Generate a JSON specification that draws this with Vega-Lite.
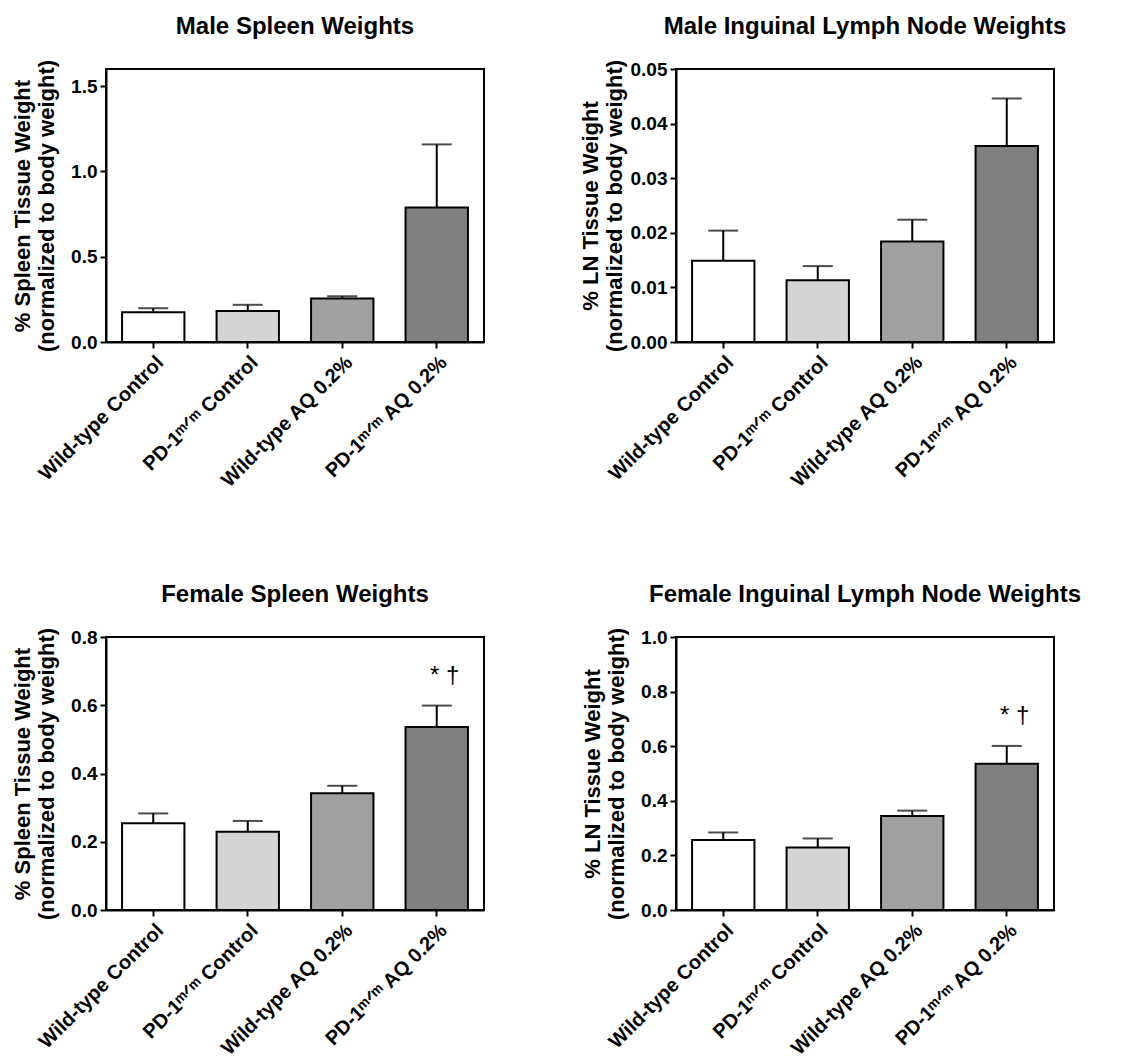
{
  "$schema": "https://vega.github.io/schema/vega-lite/v6.json",
  "autosize": {"type": "pad"},
  "padding": {"left": 10, "top": 14, "right": 5, "bottom": 5},
  "background": "white",
  "datasets": {
    "bars": [
      {"panel": "MS", "group": "Wild-type Control", "mean": 0.175, "upper": 0.198},
      {"panel": "MS", "group": "PD-1ᵐᐟᵐ Control", "mean": 0.181, "upper": 0.218},
      {"panel": "MS", "group": "Wild-type AQ 0.2%", "mean": 0.255, "upper": 0.268},
      {"panel": "MS", "group": "PD-1ᵐᐟᵐ AQ 0.2%", "mean": 0.789, "upper": 1.158},
      {"panel": "ML", "group": "Wild-type Control", "mean": 0.0149, "upper": 0.0204},
      {"panel": "ML", "group": "PD-1ᵐᐟᵐ Control", "mean": 0.0113, "upper": 0.0139},
      {"panel": "ML", "group": "Wild-type AQ 0.2%", "mean": 0.0184, "upper": 0.0224},
      {"panel": "ML", "group": "PD-1ᵐᐟᵐ AQ 0.2%", "mean": 0.0359, "upper": 0.0446},
      {"panel": "FS", "group": "Wild-type Control", "mean": 0.254, "upper": 0.283},
      {"panel": "FS", "group": "PD-1ᵐᐟᵐ Control", "mean": 0.229, "upper": 0.261},
      {"panel": "FS", "group": "Wild-type AQ 0.2%", "mean": 0.342, "upper": 0.364},
      {"panel": "FS", "group": "PD-1ᵐᐟᵐ AQ 0.2%", "mean": 0.536, "upper": 0.599, "note": "* †"},
      {"panel": "FL", "group": "Wild-type Control", "mean": 0.256, "upper": 0.284},
      {"panel": "FL", "group": "PD-1ᵐᐟᵐ Control", "mean": 0.229, "upper": 0.262},
      {"panel": "FL", "group": "Wild-type AQ 0.2%", "mean": 0.344, "upper": 0.364},
      {"panel": "FL", "group": "PD-1ᵐᐟᵐ AQ 0.2%", "mean": 0.536, "upper": 0.601, "note": "* †"}
    ]
  },
  "columns": 2,
  "spacing": {"row": 295, "column": 192},
  "bounds": "flush",
  "concat": [
    {
      "width": 378, "height": 273,
      "title": "Male Spleen Weights",
      "data": {"name": "bars"},
      "transform": [{"filter": "datum.panel === 'MS'"}],
      "encoding": {
        "x": {"field": "group", "type": "nominal", "title": null,
              "sort": ["Wild-type Control", "PD-1ᵐᐟᵐ Control", "Wild-type AQ 0.2%", "PD-1ᵐᐟᵐ AQ 0.2%"],
              "scale": {"paddingInner": 0.34, "paddingOuter": 0.17}}
      },
      "layer": [
        {"mark": {"type": "bar", "stroke": "black", "strokeWidth": 2},
         "encoding": {
           "y": {"field": "mean", "type": "quantitative", "title": ["% Spleen Tissue Weight", "(normalized to body weight)"],
                 "scale": {"domain": [0, 1.5]}, "axis": {"values": [0, 0.5, 1, 1.5], "format": ".1f"}},
           "fill": {"field": "group", "type": "nominal", "legend": null,
                    "scale": {"domain": ["Wild-type Control", "PD-1ᵐᐟᵐ Control", "Wild-type AQ 0.2%", "PD-1ᵐᐟᵐ AQ 0.2%"], "range": ["#ffffff", "#d4d4d4", "#a0a0a0", "#808080"]}}
         }},
        {"mark": {"type": "rule", "strokeWidth": 2, "color": "black"},
         "encoding": {"y": {"field": "mean", "type": "quantitative", "title": ["% Spleen Tissue Weight", "(normalized to body weight)"]}, "y2": {"field": "upper"}}},
        {"mark": {"type": "tick", "thickness": 2, "size": 30, "color": "black", "orient": "horizontal"},
         "encoding": {"y": {"field": "upper", "type": "quantitative", "title": ["% Spleen Tissue Weight", "(normalized to body weight)"]}}}
      ]
    },
    {
      "width": 378, "height": 273,
      "title": "Male Inguinal Lymph Node Weights",
      "data": {"name": "bars"},
      "transform": [{"filter": "datum.panel === 'ML'"}],
      "encoding": {
        "x": {"field": "group", "type": "nominal", "title": null,
              "sort": ["Wild-type Control", "PD-1ᵐᐟᵐ Control", "Wild-type AQ 0.2%", "PD-1ᵐᐟᵐ AQ 0.2%"],
              "scale": {"paddingInner": 0.34, "paddingOuter": 0.17}}
      },
      "layer": [
        {"mark": {"type": "bar", "stroke": "black", "strokeWidth": 2},
         "encoding": {
           "y": {"field": "mean", "type": "quantitative", "title": ["% LN Tissue Weight", "(normalized to body weight)"],
                 "scale": {"domain": [0, 0.05]}, "axis": {"values": [0, 0.01, 0.02, 0.03, 0.04, 0.05], "format": ".2f", "titlePadding": 4}},
           "fill": {"field": "group", "type": "nominal", "legend": null,
                    "scale": {"domain": ["Wild-type Control", "PD-1ᵐᐟᵐ Control", "Wild-type AQ 0.2%", "PD-1ᵐᐟᵐ AQ 0.2%"], "range": ["#ffffff", "#d4d4d4", "#a0a0a0", "#808080"]}}
         }},
        {"mark": {"type": "rule", "strokeWidth": 2, "color": "black"},
         "encoding": {"y": {"field": "mean", "type": "quantitative", "title": ["% LN Tissue Weight", "(normalized to body weight)"]}, "y2": {"field": "upper"}}},
        {"mark": {"type": "tick", "thickness": 2, "size": 30, "color": "black", "orient": "horizontal"},
         "encoding": {"y": {"field": "upper", "type": "quantitative", "title": ["% LN Tissue Weight", "(normalized to body weight)"]}}}
      ]
    },
    {
      "width": 378, "height": 273,
      "title": "Female Spleen Weights",
      "data": {"name": "bars"},
      "transform": [{"filter": "datum.panel === 'FS'"}],
      "encoding": {
        "x": {"field": "group", "type": "nominal", "title": null,
              "sort": ["Wild-type Control", "PD-1ᵐᐟᵐ Control", "Wild-type AQ 0.2%", "PD-1ᵐᐟᵐ AQ 0.2%"],
              "scale": {"paddingInner": 0.34, "paddingOuter": 0.17}}
      },
      "layer": [
        {"mark": {"type": "bar", "stroke": "black", "strokeWidth": 2},
         "encoding": {
           "y": {"field": "mean", "type": "quantitative", "title": ["% Spleen Tissue Weight", "(normalized to body weight)"],
                 "scale": {"domain": [0, 0.8]}, "axis": {"values": [0, 0.2, 0.4, 0.6, 0.8], "format": ".1f"}},
           "fill": {"field": "group", "type": "nominal", "legend": null,
                    "scale": {"domain": ["Wild-type Control", "PD-1ᵐᐟᵐ Control", "Wild-type AQ 0.2%", "PD-1ᵐᐟᵐ AQ 0.2%"], "range": ["#ffffff", "#d4d4d4", "#a0a0a0", "#808080"]}}
         }},
        {"mark": {"type": "rule", "strokeWidth": 2, "color": "black"},
         "encoding": {"y": {"field": "mean", "type": "quantitative", "title": ["% Spleen Tissue Weight", "(normalized to body weight)"]}, "y2": {"field": "upper"}}},
        {"mark": {"type": "tick", "thickness": 2, "size": 30, "color": "black", "orient": "horizontal"},
         "encoding": {"y": {"field": "upper", "type": "quantitative", "title": ["% Spleen Tissue Weight", "(normalized to body weight)"]}}},
        {"transform": [{"filter": "datum.note"}],
         "mark": {"type": "text", "dy": -30, "dx": 8, "fontSize": 24, "font": "Liberation Sans", "color": "black", "baseline": "middle"},
         "encoding": {"y": {"field": "upper", "type": "quantitative", "title": ["% Spleen Tissue Weight", "(normalized to body weight)"]}, "text": {"field": "note"}}}
      ]
    },
    {
      "width": 378, "height": 273,
      "title": "Female Inguinal Lymph Node Weights",
      "data": {"name": "bars"},
      "transform": [{"filter": "datum.panel === 'FL'"}],
      "encoding": {
        "x": {"field": "group", "type": "nominal", "title": null,
              "sort": ["Wild-type Control", "PD-1ᵐᐟᵐ Control", "Wild-type AQ 0.2%", "PD-1ᵐᐟᵐ AQ 0.2%"],
              "scale": {"paddingInner": 0.34, "paddingOuter": 0.17}}
      },
      "layer": [
        {"mark": {"type": "bar", "stroke": "black", "strokeWidth": 2},
         "encoding": {
           "y": {"field": "mean", "type": "quantitative", "title": ["% LN Tissue Weight", "(normalized to body weight)"],
                 "scale": {"domain": [0, 1.0]}, "axis": {"values": [0, 0.2, 0.4, 0.6, 0.8, 1.0], "format": ".1f"}},
           "fill": {"field": "group", "type": "nominal", "legend": null,
                    "scale": {"domain": ["Wild-type Control", "PD-1ᵐᐟᵐ Control", "Wild-type AQ 0.2%", "PD-1ᵐᐟᵐ AQ 0.2%"], "range": ["#ffffff", "#d4d4d4", "#a0a0a0", "#808080"]}}
         }},
        {"mark": {"type": "rule", "strokeWidth": 2, "color": "black"},
         "encoding": {"y": {"field": "mean", "type": "quantitative", "title": ["% LN Tissue Weight", "(normalized to body weight)"]}, "y2": {"field": "upper"}}},
        {"mark": {"type": "tick", "thickness": 2, "size": 30, "color": "black", "orient": "horizontal"},
         "encoding": {"y": {"field": "upper", "type": "quantitative", "title": ["% LN Tissue Weight", "(normalized to body weight)"]}}},
        {"transform": [{"filter": "datum.note"}],
         "mark": {"type": "text", "dy": -30, "dx": 8, "fontSize": 24, "font": "Liberation Sans", "color": "black", "baseline": "middle"},
         "encoding": {"y": {"field": "upper", "type": "quantitative", "title": ["% LN Tissue Weight", "(normalized to body weight)"]}, "text": {"field": "note"}}}
      ]
    }
  ],
  "config": {
    "font": "Liberation Sans",
    "view": {"stroke": "black", "strokeWidth": 2},
    "axis": {
      "labelFont": "Liberation Sans", "labelFontWeight": "bold", "labelFontSize": 19, "labelColor": "black",
      "titleFont": "Liberation Sans", "titleFontWeight": "bold", "titleFontSize": 22, "titleColor": "black",
      "titleLineHeight": 24,
      "domainColor": "black", "domainWidth": 2, "tickColor": "black", "tickWidth": 2, "tickSize": 6,
      "grid": false, "labelPadding": 3
    },
    "axisY": {"titlePadding": 12, "labelOverlap": false},
    "axisX": {"labelAngle": -45, "labelPadding": 4, "labelFontSize": 20},
    "title": {"fontSize": 24, "fontWeight": "bold", "font": "Liberation Sans", "color": "black", "anchor": "middle", "offset": 20}
  }
}
